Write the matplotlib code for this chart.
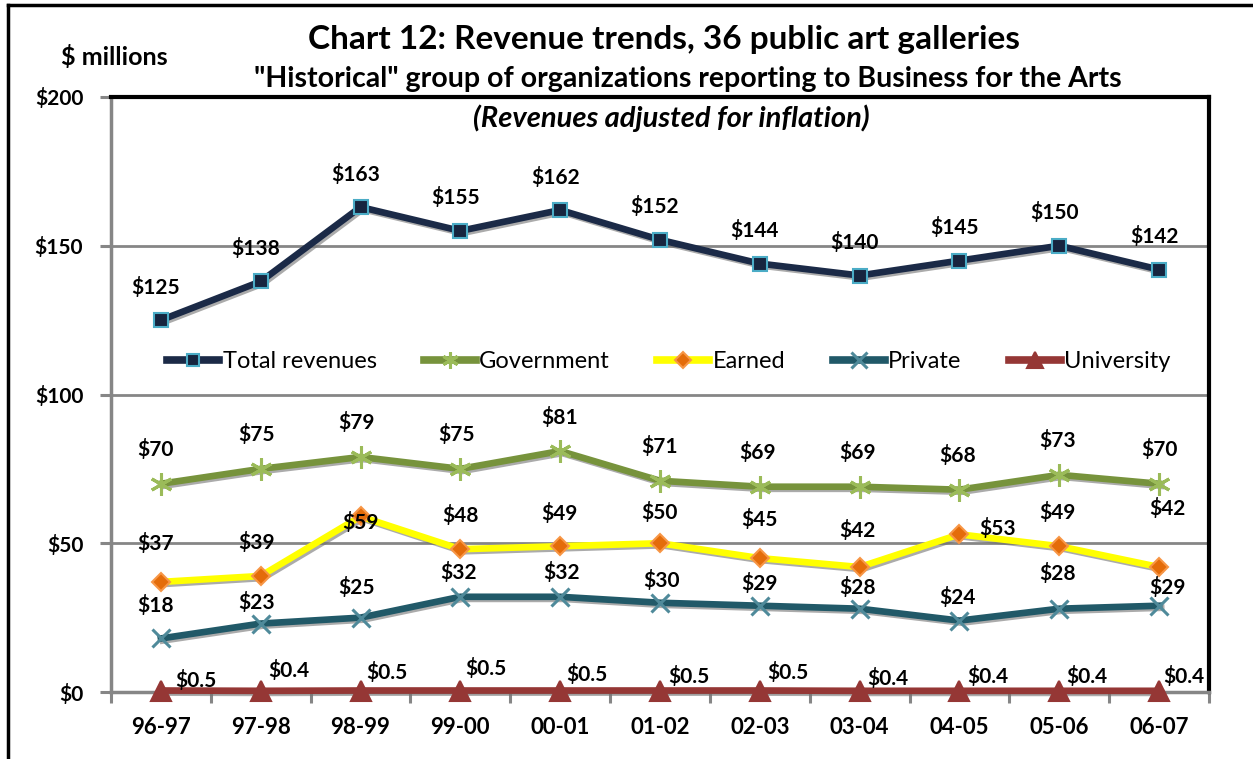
import matplotlib
matplotlib.use("Agg")
import matplotlib.pyplot as plt
import matplotlib.patheffects as pe
from matplotlib.lines import Line2D

plt.rcParams["font.family"] = ["Lato", "DejaVu Sans"]

years = ["96-97", "97-98", "98-99", "99-00", "00-01", "01-02",
         "02-03", "03-04", "04-05", "05-06", "06-07"]
total = [125, 138, 163, 155, 162, 152, 144, 140, 145, 150, 142]
government = [70, 75, 79, 75, 81, 71, 69, 69, 68, 73, 70]
earned = [37, 39, 59, 48, 49, 50, 45, 42, 53, 49, 42]
private = [18, 23, 25, 32, 32, 30, 29, 28, 24, 28, 29]
university = [0.5, 0.4, 0.5, 0.5, 0.5, 0.5, 0.5, 0.4, 0.4, 0.4, 0.4]
yticks = [0, 50, 100, 150, 200]

# label offsets in pixels (dx, dy) per point
off_total = [(-5, 33)] * 11
off_gov = [(-5, 34), (-4, 34), (-4, 34), (-4, 34), (-1, 34), (-1, 34),
           (-2, 34), (-2, 34), (-2, 34), (-2, 34), (0, 34)]
off_earned = [(-5, 38), (-4, 33), (0, -6), (0, 34), (-1, 33), (-1, 31),
              (0, 39), (-2, 37), (38, 6), (-2, 34), (8, 59)]
off_private = [(-5, 33), (-4, 21), (-4, 30), (-2, 24), (1, 24), (1, 22),
               (0, 22), (-2, 21), (-2, 23), (-2, 35), (8, 18)]
off_univ = [(35, 10), (28, 20), (26, 18), (26, 22), (27, 16), (29, 14),
            (28, 18), (28, 12), (28, 14), (28, 14), (25, 14)]

series = [
    ("Total revenues", total, "#1B2A47", "s", "#17253F", "#4BACC6", 10, off_total),
    ("Government", government, "#77933C", (6, 2, 0), "#9BBB59", "#9BBB59", 16, off_gov),
    ("Earned", earned, "#FFFF00", "D", "#E46C0A", "#F79646", 9, off_earned),
    ("Private", private, "#215968", "x", "#4F8A9A", "#4F8A9A", 13, off_private),
    ("University", university, "#953735", "^", "#953735", "#953735", 15, off_univ),
]

fig = plt.figure(figsize=(12.53, 7.59), dpi=100)
ax = fig.add_axes([111 / 1253, 67 / 759, 1098 / 1253, 595 / 759])
x = list(range(len(years)))

shadow = [pe.SimpleLineShadow(offset=(1.5, -1.5), shadow_color="0.45", alpha=0.6),
          pe.Normal()]
handles = []
for name, vals, lc, mk, mfc, mec, ms, offs in series:
    ax.plot(x, vals, "-", color=lc, lw=4.8, zorder=5, path_effects=shadow,
            solid_joinstyle="miter", clip_on=False)
    mew = 2.2 if mk in ("x", (6, 2, 0)) else 1.5
    ax.plot(x, vals, ls="", marker=mk, ms=ms, mfc=mfc, mec=mec, mew=mew,
            zorder=6, clip_on=False)
    handles.append(Line2D([], [], color=lc, lw=5.5, marker=mk, ms=min(ms, 13) * 0.9,
                          mfc=mfc, mec=mec, mew=mew, label=name))
    for xi, v, (dx, dy) in zip(x, vals, offs):
        lab = f"${v:g}" if v < 1 else f"${v:.0f}"
        ax.annotate(lab, (xi, v), xytext=(dx, dy), textcoords="offset pixels",
                    ha="center", va="center", fontsize=15, fontweight="bold",
                    color="black", zorder=7)

ax.set_xlim(-0.5, len(years) - 0.5)
ax.set_ylim(0, 200)
ax.set_yticks(yticks)
ax.set_yticklabels([f"${t}" for t in yticks], fontsize=15, fontweight="bold")
ax.set_xticks(x)
ax.set_xticklabels(years, fontsize=16, fontweight="bold")
ax.set_xticks([i - 0.5 for i in range(len(years) + 1)], minor=True)
ax.tick_params(axis="x", which="major", length=0, pad=18)
ax.tick_params(axis="x", which="minor", length=8, width=2.2, color="#868686",
               direction="out")
ax.tick_params(axis="y", length=8, width=2.2, color="#868686", pad=12)
for y in yticks[1:-1]:
    ax.axhline(y, color="#868686", lw=2.0, zorder=1)
for s in ("left", "bottom"):
    ax.spines[s].set_color("#868686")
    ax.spines[s].set_linewidth(2.5)
for s in ("top", "right"):
    ax.spines[s].set_color("black")
    ax.spines[s].set_linewidth(3)

ax.legend(handles=handles, loc="center", bbox_to_anchor=(0.508, 0.555),
          ncol=5, frameon=False, fontsize=17, handlelength=2.2,
          columnspacing=2.0, handletextpad=0.15)

fig.text(664 / 1253, 1 - 40 / 759, "Chart 12: Revenue trends, 36 public art galleries",
         ha="center", va="center", fontsize=24, fontweight="bold")
fig.text(688 / 1253, 1 - 79 / 759,
         "\"Historical\" group of organizations reporting to Business for the Arts",
         ha="center", va="center", fontsize=20.5, fontweight="bold")
fig.text(671 / 1253, 1 - 118 / 759, "(Revenues adjusted for inflation)",
         ha="center", va="center", fontsize=21, fontweight="bold", style="italic")
fig.text(114 / 1253, 1 - 57 / 759, "$ millions", ha="center", va="center",
         fontsize=18, fontweight="bold")

# outer frame (left and top edges)
fig.add_artist(Line2D([8 / 1253, 8 / 1253], [0, 1 - 5 / 759], color="black",
                      lw=2.5, transform=fig.transFigure))
fig.add_artist(Line2D([8 / 1253, 1], [1 - 5 / 759, 1 - 5 / 759], color="black",
                      lw=2.5, transform=fig.transFigure))

fig.savefig("out.png", dpi=100)
